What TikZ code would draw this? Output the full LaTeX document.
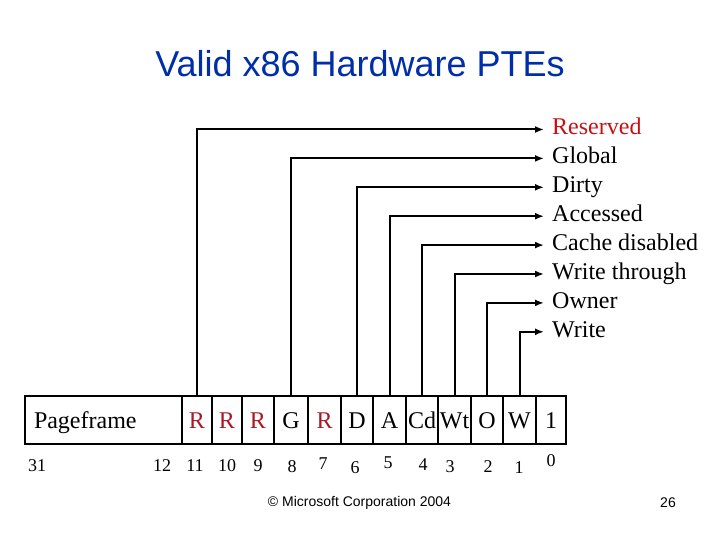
\documentclass[tikz,border=0pt]{standalone}
\usepackage{fontspec}
\setmainfont{Liberation Serif}
\newfontfamily\slidefont{Liberation Sans}
\usetikzlibrary{arrows.meta}
\definecolor{titleblue}{RGB}{0,45,170}
\definecolor{resred}{RGB}{200,16,20}
\definecolor{cellred}{RGB}{170,24,36}
\tikzset{
    cell/.style={draw, line width=1.2pt, minimum height=48pt, inner sep=0pt,
        text height=16pt, text depth=0pt, font=\fontsize{24}{28}\selectfont},
    bitno/.style={anchor=base, inner sep=0pt, font=\fontsize{18}{20}\selectfont},
    flag/.style={anchor=west, inner sep=3pt, text height=16pt, text depth=5pt,
        font=\fontsize{24}{28}\selectfont},
    tap/.style={-{Latex[length=9pt,width=7pt]}, line width=2pt, shorten >=5pt}
}
\begin{document}
\begin{tikzpicture}[x=1pt, y=-1pt]
        \useasboundingbox (0,0) rectangle (720,540);
        % title
        \node[anchor=base, text=titleblue, font=\slidefont\fontsize{36}{40}\selectfont] (title) at (360,77) {Valid x86 Hardware PTEs};
        % flag names
        \node[flag, text=resred] (reserved) at (549,129.5) {Reserved};
        \node[flag] (global) at (549,158.4) {Global};
        \node[flag] (dirty) at (549,187.3) {Dirty};
        \node[flag] (accessed) at (549,216.2) {Accessed};
        \node[flag] (cachedis) at (549,245.1) {Cache disabled};
        \node[flag] (writethru) at (549,274) {Write through};
        \node[flag] (owner) at (549,302.9) {Owner};
        \node[flag] (write) at (549,331.8) {Write};
        % the entry
        \node[cell, minimum width=157pt, text width=139pt, inner xsep=9pt, align=left] (pf) at (103.5,420) {Pageframe};
        \node[cell, minimum width=30pt, text=cellred] (r11) at (197,420) {R};
        \node[cell, minimum width=30pt, text=cellred] (r10) at (227,420) {R};
        \node[cell, minimum width=32pt, text=cellred] (r9) at (258,420) {R};
        \node[cell, minimum width=34pt] (g) at (291,420) {G};
        \node[cell, minimum width=33pt, text=cellred] (r7) at (324.5,420) {R};
        \node[cell, minimum width=32pt] (d) at (357,420) {D};
        \node[cell, minimum width=33pt] (a) at (389.5,420) {A};
        \node[cell, minimum width=32pt] (cd) at (422,420) {Cd};
        \node[cell, minimum width=33pt] (wt) at (454.5,420) {Wt};
        \node[cell, minimum width=32pt] (o) at (487,420) {O};
        \node[cell, minimum width=33pt] (w) at (519.5,420) {W};
        \node[cell, minimum width=30pt] (one) at (551,420) {1};
        % bit numbers
        \node[bitno] (b31) at (37,471) {31};
        \node[bitno] (b12) at (162,471) {12};
        \node[bitno] (b11) at (195,471) {11};
        \node[bitno] (b10) at (227,471) {10};
        \node[bitno] (b9) at (258,471) {9};
        \node[bitno] (b8) at (292,472) {8};
        \node[bitno] (b7) at (323,469) {7};
        \node[bitno] (b6) at (355,473) {6};
        \node[bitno] (b5) at (388,468) {5};
        \node[bitno] (b4) at (423,470) {4};
        \node[bitno] (b3) at (450,472) {3};
        \node[bitno] (b2) at (488,472) {2};
        \node[bitno] (b1) at (519,473) {1};
        \node[bitno] (b0) at (551,466) {0};
        % leaders
        \draw[tap] (r11.north) |- (reserved.west);
        \draw[tap] (g.north) |- (global.west);
        \draw[tap] (d.north) |- (dirty.west);
        \draw[tap] (a.north) |- (accessed.west);
        \draw[tap] (cd.north) |- (cachedis.west);
        \draw[tap] (wt.north) |- (writethru.west);
        \draw[tap] (o.north) |- (owner.west);
        \draw[tap] (w.north) |- (write.west);
        % footer
        \node[font=\slidefont\fontsize{14}{16}\selectfont] (copy) at (359.5,503) {© Microsoft Corporation 2004};
        \node[font=\slidefont\fontsize{14}{16}\selectfont] (slideno) at (668,503) {26};
    \end{tikzpicture}
\end{document}
